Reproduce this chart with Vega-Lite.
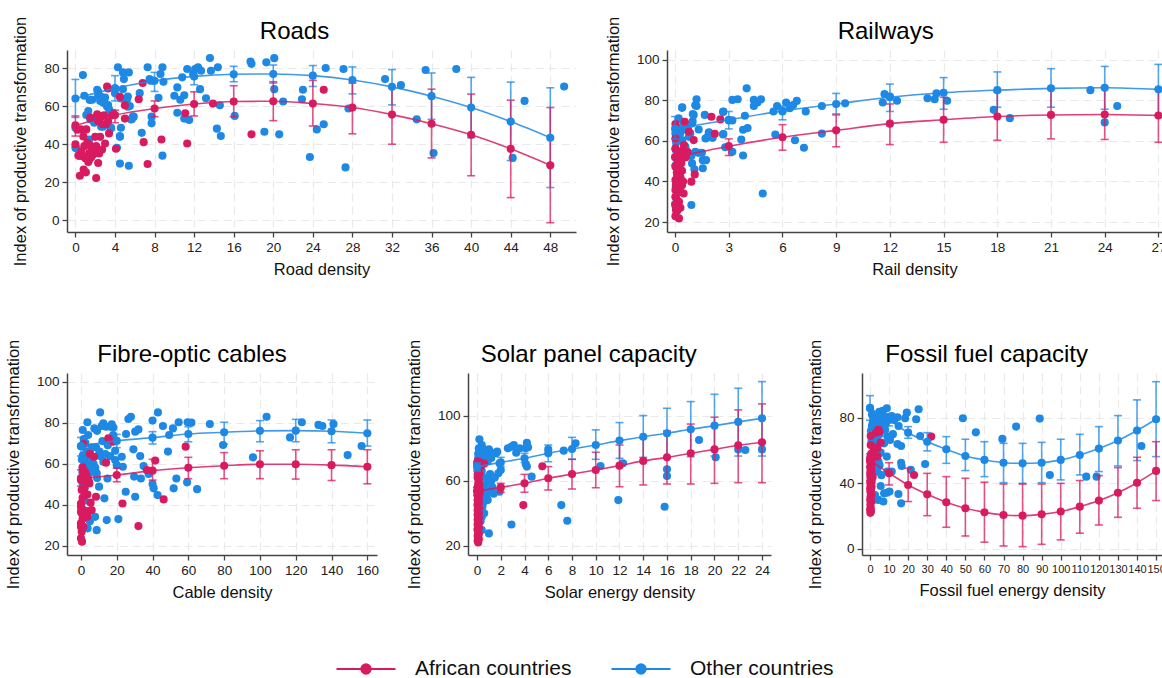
{
"$schema": "https://vega.github.io/schema/vega-lite/v6.json",
"padding": {"left": 5, "top": 16, "right": 0, "bottom": 0},
"background": "white",
"config": {
  "font": "Liberation Sans, Arial, sans-serif",
  "view": {"stroke": null},
  "axis": {"domainColor": "#444", "domainWidth": 1.5, "tickColor": "#444", "tickWidth": 1.3, "tickSize": 5, "labelFontSize": 13.5, "labelColor": "#222", "titleFontSize": 16.5, "titleFontWeight": "normal", "titleColor": "#111", "gridColor": "#e9e9e9", "gridDash": [8, 5], "gridWidth": 1.2, "labelPadding": 3},
  "axisX": {"titlePadding": 8},
  "axisY": {"titlePadding": 15},
  "title": {"fontSize": 24, "fontWeight": "normal", "anchor": "middle", "frame": "bounds", "offset": 0, "dy": 32, "color": "#000"}
},
"resolve": {"scale": {"color": "shared"}, "legend": {"color": "shared"}},
"spacing": 61,
"datasets": {
"pts": [
{"p":"R","g":"O","x":0,"y":38},{"p":"R","g":"O","x":0,"y":48.6},{"p":"R","g":"O","x":0.76,"y":76.3},{"p":"R","g":"O","x":0.9,"y":65.4},{"p":"R","g":"O","x":0.4,"y":33.9},{"p":"R","g":"O","x":1.3,"y":57.4},{"p":"R","g":"O","x":1.5,"y":53},{"p":"R","g":"O","x":1.7,"y":63.3},{"p":"R","g":"O","x":1.4,"y":42.4},{"p":"R","g":"O","x":1.9,"y":51.2},{"p":"R","g":"O","x":2.2,"y":68.6},{"p":"R","g":"O","x":2.3,"y":65.4},{"p":"R","g":"O","x":2.5,"y":62.7},{"p":"R","g":"O","x":2.6,"y":49.1},{"p":"R","g":"O","x":2.8,"y":61.8},{"p":"R","g":"O","x":3,"y":64.5},{"p":"R","g":"O","x":3.2,"y":59.7},{"p":"R","g":"O","x":3.4,"y":58.3},{"p":"R","g":"O","x":3.6,"y":48.6},{"p":"R","g":"O","x":3.8,"y":56.5},{"p":"R","g":"O","x":4,"y":69.3},{"p":"R","g":"O","x":4.2,"y":38},{"p":"R","g":"O","x":4.3,"y":80.4},{"p":"R","g":"O","x":4.5,"y":44.2},{"p":"R","g":"O","x":4.6,"y":48.6},{"p":"R","g":"O","x":4.5,"y":29.7},{"p":"R","g":"O","x":4.8,"y":68.9},{"p":"R","g":"O","x":4.8,"y":77.7},{"p":"R","g":"O","x":4.9,"y":74.2},{"p":"R","g":"O","x":5.1,"y":63.6},{"p":"R","g":"O","x":5.3,"y":65},{"p":"R","g":"O","x":5.4,"y":77.7},{"p":"R","g":"O","x":5.5,"y":60},{"p":"R","g":"O","x":5.4,"y":28.6},{"p":"R","g":"O","x":5.7,"y":53},{"p":"R","g":"O","x":5.9,"y":54.4},{"p":"R","g":"O","x":6.5,"y":66.8},{"p":"R","g":"O","x":6.7,"y":45.9},{"p":"R","g":"O","x":7.3,"y":80.4},{"p":"R","g":"O","x":7.5,"y":74.2},{"p":"R","g":"O","x":7.6,"y":73.3},{"p":"R","g":"O","x":7.7,"y":50.9},{"p":"R","g":"O","x":7.7,"y":54.4},{"p":"R","g":"O","x":7.9,"y":73.3},{"p":"R","g":"O","x":8.4,"y":64.3},{"p":"R","g":"O","x":8.6,"y":76.9},{"p":"R","g":"O","x":8.8,"y":80.4},{"p":"R","g":"O","x":8.9,"y":72.8},{"p":"R","g":"O","x":8.8,"y":33.9},{"p":"R","g":"O","x":10,"y":65.4},{"p":"R","g":"O","x":10.3,"y":69.8},{"p":"R","g":"O","x":10.3,"y":56.5},{"p":"R","g":"O","x":10.6,"y":63.3},{"p":"R","g":"O","x":10.8,"y":75.1},{"p":"R","g":"O","x":11,"y":65.7},{"p":"R","g":"O","x":11,"y":53.4},{"p":"R","g":"O","x":11.3,"y":79.5},{"p":"R","g":"O","x":11.5,"y":52.7},{"p":"R","g":"O","x":11.9,"y":76.9},{"p":"R","g":"O","x":12.1,"y":79.5},{"p":"R","g":"O","x":12.4,"y":80.4},{"p":"R","g":"O","x":12.6,"y":68.9},{"p":"R","g":"O","x":12.7,"y":78.6},{"p":"R","g":"O","x":13.2,"y":64.1},{"p":"R","g":"O","x":13.6,"y":85.3},{"p":"R","g":"O","x":13.7,"y":78.6},{"p":"R","g":"O","x":14.3,"y":48.1},{"p":"R","g":"O","x":14.4,"y":80.4},{"p":"R","g":"O","x":14.7,"y":44.2},{"p":"R","g":"O","x":14.6,"y":60.4},{"p":"R","g":"O","x":16.1,"y":54.8},{"p":"R","g":"O","x":17.7,"y":83.4},{"p":"R","g":"O","x":17.8,"y":82.2},{"p":"R","g":"O","x":19.1,"y":46.5},{"p":"R","g":"O","x":19.3,"y":83},{"p":"R","g":"O","x":20.1,"y":85.2},{"p":"R","g":"O","x":20.1,"y":68.9},{"p":"R","g":"O","x":20.6,"y":45.1},{"p":"R","g":"O","x":21,"y":62.4},{"p":"R","g":"O","x":22.9,"y":63.6},{"p":"R","g":"O","x":23,"y":68.6},{"p":"R","g":"O","x":23.7,"y":33.2},{"p":"R","g":"O","x":24.4,"y":47.7},{"p":"R","g":"O","x":25.1,"y":50.4},{"p":"R","g":"O","x":25.3,"y":80},{"p":"R","g":"O","x":27.1,"y":79.5},{"p":"R","g":"O","x":27.3,"y":27.7},{"p":"R","g":"O","x":27.6,"y":58.7},{"p":"R","g":"O","x":31.3,"y":74.2},{"p":"R","g":"O","x":32.9,"y":71},{"p":"R","g":"O","x":34.5,"y":53},{"p":"R","g":"O","x":35.4,"y":79},{"p":"R","g":"O","x":36.2,"y":35.3},{"p":"R","g":"O","x":38.5,"y":79.5},{"p":"R","g":"O","x":44.2,"y":32.7},{"p":"R","g":"O","x":45.4,"y":62.7},{"p":"R","g":"O","x":49.4,"y":70.3},{"p":"R","g":"O","x":1.1,"y":55.3},{"p":"R","g":"O","x":1.45,"y":63.2},{"p":"R","g":"O","x":2.3,"y":67.5},{"p":"R","g":"O","x":2.6,"y":64.9},{"p":"R","g":"O","x":3,"y":61.4},{"p":"R","g":"O","x":3.3,"y":60.5},{"p":"R","g":"O","x":1.8,"y":52.6},{"p":"R","g":"O","x":2.1,"y":53.5},{"p":"R","g":"O","x":2.8,"y":49.1},{"p":"R","g":"O","x":3.6,"y":48.3},{"p":"R","g":"O","x":4.5,"y":43.8},{"p":"R","g":"O","x":0.1,"y":37.7},{"p":"R","g":"O","x":0.43,"y":33.7},{"p":"R","g":"O","x":4,"y":66.7},{"p":"R","g":"O","x":4.6,"y":64},{"p":"R","g":"O","x":5.2,"y":63.2},{"p":"R","g":"O","x":5.3,"y":59.6},{"p":"R","g":"O","x":5.8,"y":54.4},{"p":"R","g":"O","x":5.6,"y":53},
{"p":"R","g":"A","x":0,"y":39.8},{"p":"R","g":"A","x":0.45,"y":23.3},{"p":"R","g":"A","x":0.57,"y":47.7},{"p":"R","g":"A","x":0.76,"y":33.6},{"p":"R","g":"A","x":0.83,"y":26.5},{"p":"R","g":"A","x":0.9,"y":38.9},{"p":"R","g":"A","x":1.06,"y":25.1},{"p":"R","g":"A","x":1.1,"y":47.7},{"p":"R","g":"A","x":1.2,"y":40.6},{"p":"R","g":"A","x":1.4,"y":35.3},{"p":"R","g":"A","x":1.4,"y":31.8},{"p":"R","g":"A","x":1.5,"y":39.2},{"p":"R","g":"A","x":1.7,"y":37.1},{"p":"R","g":"A","x":1.8,"y":34.5},{"p":"R","g":"A","x":2,"y":43.8},{"p":"R","g":"A","x":2.1,"y":22.1},{"p":"R","g":"A","x":2.2,"y":55.7},{"p":"R","g":"A","x":2.3,"y":52.1},{"p":"R","g":"A","x":2.3,"y":30},{"p":"R","g":"A","x":2.5,"y":43.8},{"p":"R","g":"A","x":2.6,"y":54.4},{"p":"R","g":"A","x":2.7,"y":37.1},{"p":"R","g":"A","x":2.9,"y":55.1},{"p":"R","g":"A","x":3,"y":40.3},{"p":"R","g":"A","x":3.1,"y":50.4},{"p":"R","g":"A","x":3.2,"y":70.3},{"p":"R","g":"A","x":3.3,"y":69.3},{"p":"R","g":"A","x":3.4,"y":45.6},{"p":"R","g":"A","x":3.7,"y":55.1},{"p":"R","g":"A","x":4.1,"y":37.5},{"p":"R","g":"A","x":4.5,"y":64.8},{"p":"R","g":"A","x":5,"y":60.4},{"p":"R","g":"A","x":5,"y":53.4},{"p":"R","g":"A","x":6.4,"y":63.6},{"p":"R","g":"A","x":6.8,"y":72.1},{"p":"R","g":"A","x":6.9,"y":41},{"p":"R","g":"A","x":7.3,"y":29.5},{"p":"R","g":"A","x":8.7,"y":42.4},{"p":"R","g":"A","x":11.1,"y":56.2},{"p":"R","g":"A","x":11.3,"y":40.3},{"p":"R","g":"A","x":13.9,"y":61.3},{"p":"R","g":"A","x":17.8,"y":45.1},{"p":"R","g":"A","x":25.1,"y":68.6},{"p":"R","g":"A","x":0.6,"y":36},{"p":"R","g":"A","x":1,"y":32.5},{"p":"R","g":"A","x":1.6,"y":33},{"p":"R","g":"A","x":1.9,"y":37.5},{"p":"R","g":"A","x":2.4,"y":35},{"p":"R","g":"A","x":0.3,"y":34},{"p":"R","g":"A","x":1.3,"y":30.6},{"p":"R","g":"A","x":2.1,"y":39},{"p":"R","g":"A","x":0.8,"y":44},{"p":"R","g":"A","x":0.2,"y":47.5},{"p":"R","g":"A","x":1.5,"y":54},{"p":"R","g":"A","x":2.7,"y":50.5},{"p":"R","g":"A","x":3.3,"y":52},
{"p":"W","g":"O","x":0.4,"y":76.6},{"p":"W","g":"O","x":1.2,"y":80.5},{"p":"W","g":"O","x":1.2,"y":77.2},{"p":"W","g":"O","x":1.04,"y":72.8},{"p":"W","g":"O","x":0.98,"y":69.6},{"p":"W","g":"O","x":1.66,"y":72.8},{"p":"W","g":"O","x":1.9,"y":64.2},{"p":"W","g":"O","x":1.77,"y":61.5},{"p":"W","g":"O","x":2.1,"y":61.5},{"p":"W","g":"O","x":2.7,"y":74.5},{"p":"W","g":"O","x":2.7,"y":63.4},{"p":"W","g":"O","x":2.8,"y":56.9},{"p":"W","g":"O","x":3,"y":70.1},{"p":"W","g":"O","x":3.2,"y":70.1},{"p":"W","g":"O","x":3.2,"y":80.2},{"p":"W","g":"O","x":3.5,"y":80.5},{"p":"W","g":"O","x":3.2,"y":54.6},{"p":"W","g":"O","x":3.7,"y":60.7},{"p":"W","g":"O","x":3.8,"y":65.5},{"p":"W","g":"O","x":3.9,"y":72.4},{"p":"W","g":"O","x":4,"y":85.9},{"p":"W","g":"O","x":4.05,"y":66.3},{"p":"W","g":"O","x":3.8,"y":52.8},{"p":"W","g":"O","x":4.4,"y":80.2},{"p":"W","g":"O","x":4.4,"y":77.2},{"p":"W","g":"O","x":4.6,"y":78.9},{"p":"W","g":"O","x":4.8,"y":80.5},{"p":"W","g":"O","x":4.9,"y":34.1},{"p":"W","g":"O","x":5.5,"y":74.5},{"p":"W","g":"O","x":5.7,"y":77.2},{"p":"W","g":"O","x":5.6,"y":63.1},{"p":"W","g":"O","x":6,"y":74.5},{"p":"W","g":"O","x":6.2,"y":78.9},{"p":"W","g":"O","x":6.4,"y":76.1},{"p":"W","g":"O","x":6.6,"y":77.7},{"p":"W","g":"O","x":6.8,"y":79.7},{"p":"W","g":"O","x":6.7,"y":60.3},{"p":"W","g":"O","x":7.2,"y":56.6},{"p":"W","g":"O","x":7.3,"y":74.5},{"p":"W","g":"O","x":8.2,"y":63.6},{"p":"W","g":"O","x":8.2,"y":77.2},{"p":"W","g":"O","x":9.5,"y":78.5},{"p":"W","g":"O","x":11.6,"y":78.9},{"p":"W","g":"O","x":11.7,"y":83.1},{"p":"W","g":"O","x":12,"y":81.8},{"p":"W","g":"O","x":12.4,"y":79.8},{"p":"W","g":"O","x":14.1,"y":81},{"p":"W","g":"O","x":14.5,"y":80.5},{"p":"W","g":"O","x":14.6,"y":83.4},{"p":"W","g":"O","x":15.2,"y":79.8},{"p":"W","g":"O","x":17.8,"y":75.3},{"p":"W","g":"O","x":18.7,"y":71.2},{"p":"W","g":"O","x":23.2,"y":85},{"p":"W","g":"O","x":24,"y":69.1},{"p":"W","g":"O","x":24.7,"y":77.2},{"p":"W","g":"O","x":0.39,"y":76.3},{"p":"W","g":"O","x":1.13,"y":77.6},{"p":"W","g":"O","x":0.99,"y":73.2},{"p":"W","g":"O","x":2.68,"y":74.3},{"p":"W","g":"O","x":1.32,"y":65.6},{"p":"W","g":"O","x":1.88,"y":64},{"p":"W","g":"O","x":1.7,"y":61.2},{"p":"W","g":"O","x":2.68,"y":63.2},{"p":"W","g":"O","x":0.91,"y":28.4},{"p":"W","g":"O","x":1.55,"y":46.5},{"p":"W","g":"O","x":1.08,"y":46},{"p":"W","g":"O","x":1.55,"y":50.5},{"p":"W","g":"O","x":1.73,"y":50.5},{"p":"W","g":"O","x":0.95,"y":48.9},{"p":"W","g":"O","x":1.13,"y":54.6},{"p":"W","g":"O","x":1.3,"y":54.1},{"p":"W","g":"O","x":1.5,"y":54.1},{"p":"W","g":"O","x":0.8,"y":53.5},{"p":"W","g":"O","x":0.58,"y":57.1},{"p":"W","g":"O","x":0.6,"y":55.5},{"p":"W","g":"O","x":0.91,"y":52.5},{"p":"W","g":"O","x":0.77,"y":62},{"p":"W","g":"O","x":0.95,"y":68.6},{"p":"W","g":"O","x":0.6,"y":66.6},{"p":"W","g":"O","x":0.39,"y":65.3},{"p":"W","g":"O","x":0.2,"y":66.2},{"p":"W","g":"O","x":0.12,"y":62.9},{"p":"W","g":"O","x":0.06,"y":59.1},{"p":"W","g":"O","x":0.04,"y":55.5},{"p":"W","g":"O","x":0.12,"y":52.2},{"p":"W","g":"O","x":0.04,"y":48.1},{"p":"W","g":"O","x":0.12,"y":42.3},{"p":"W","g":"O","x":0.04,"y":37.4},{"p":"W","g":"O","x":0.04,"y":32.5},{"p":"W","g":"O","x":0.04,"y":27.5},{"p":"W","g":"O","x":0.2,"y":71.1},{"p":"W","g":"O","x":0.46,"y":69.4},{"p":"W","g":"O","x":0.28,"y":63.7},{"p":"W","g":"O","x":0.85,"y":63.7},{"p":"W","g":"O","x":0.71,"y":66.2},{"p":"W","g":"O","x":0.39,"y":60.4},{"p":"W","g":"O","x":0.06,"y":66.9},{"p":"W","g":"O","x":0.02,"y":63.7},{"p":"W","g":"O","x":0,"y":28.9},
{"p":"W","g":"A","x":0.02,"y":68.3},{"p":"W","g":"A","x":0.54,"y":69.4},{"p":"W","g":"A","x":0.02,"y":61.2},{"p":"W","g":"A","x":0.77,"y":64.5},{"p":"W","g":"A","x":1.04,"y":60.4},{"p":"W","g":"A","x":2.03,"y":71.9},{"p":"W","g":"A","x":2.53,"y":70.6},{"p":"W","g":"A","x":2.22,"y":63.5},{"p":"W","g":"A","x":0.02,"y":56.3},{"p":"W","g":"A","x":0.2,"y":53.8},{"p":"W","g":"A","x":0.43,"y":55.5},{"p":"W","g":"A","x":0.54,"y":51.9},{"p":"W","g":"A","x":0.17,"y":52.2},{"p":"W","g":"A","x":0.02,"y":47.2},{"p":"W","g":"A","x":0.2,"y":46.4},{"p":"W","g":"A","x":0.39,"y":45.3},{"p":"W","g":"A","x":0.12,"y":43.2},{"p":"W","g":"A","x":1.1,"y":43.5},{"p":"W","g":"A","x":0.91,"y":39.9},{"p":"W","g":"A","x":0.02,"y":40.7},{"p":"W","g":"A","x":0.2,"y":37.4},{"p":"W","g":"A","x":0.39,"y":38.2},{"p":"W","g":"A","x":0.02,"y":35.8},{"p":"W","g":"A","x":0.3,"y":34.9},{"p":"W","g":"A","x":0.48,"y":34.1},{"p":"W","g":"A","x":0.02,"y":32.5},{"p":"W","g":"A","x":0.22,"y":30},{"p":"W","g":"A","x":0.02,"y":28.4},{"p":"W","g":"A","x":0.12,"y":25.6},{"p":"W","g":"A","x":0.02,"y":22.9},{"p":"W","g":"A","x":0.22,"y":21.8},{"p":"W","g":"A","x":0.1,"y":44.5},{"p":"W","g":"A","x":0.3,"y":42},{"p":"W","g":"A","x":0.15,"y":50},{"p":"W","g":"A","x":0.35,"y":49},{"p":"W","g":"A","x":0.05,"y":38.5},{"p":"W","g":"A","x":0.25,"y":36.5},{"p":"W","g":"A","x":0.45,"y":40},{"p":"W","g":"A","x":0.1,"y":31},{"p":"W","g":"A","x":0.3,"y":27},{"p":"W","g":"A","x":0.05,"y":26},{"p":"W","g":"A","x":0.6,"y":52},{"p":"W","g":"A","x":0.7,"y":54.5},{"p":"W","g":"A","x":0.5,"y":58},
{"p":"F","g":"O","x":1,"y":76.4},{"p":"F","g":"O","x":3.6,"y":80.2},{"p":"F","g":"O","x":7.5,"y":77.2},{"p":"F","g":"O","x":10.7,"y":85},{"p":"F","g":"O","x":11.6,"y":78.4},{"p":"F","g":"O","x":12.5,"y":79.7},{"p":"F","g":"O","x":14,"y":78},{"p":"F","g":"O","x":16.6,"y":78},{"p":"F","g":"O","x":17.2,"y":79.2},{"p":"F","g":"O","x":18.1,"y":77.6},{"p":"F","g":"O","x":8.4,"y":68},{"p":"F","g":"O","x":10.3,"y":65.9},{"p":"F","g":"O","x":13.6,"y":64.7},{"p":"F","g":"O","x":10.7,"y":63.7},{"p":"F","g":"O","x":16.3,"y":63.7},{"p":"F","g":"O","x":19.1,"y":66.3},{"p":"F","g":"O","x":19.1,"y":61.8},{"p":"F","g":"O","x":20,"y":59.3},{"p":"F","g":"O","x":22.8,"y":63.4},{"p":"F","g":"O","x":23.4,"y":58.5},{"p":"F","g":"O","x":25,"y":46.3},{"p":"F","g":"O","x":25.2,"y":74.5},{"p":"F","g":"O","x":26.5,"y":81.8},{"p":"F","g":"O","x":27.9,"y":82.9},{"p":"F","g":"O","x":29.3,"y":67},{"p":"F","g":"O","x":29.7,"y":53.7},{"p":"F","g":"O","x":30.3,"y":75.6},{"p":"F","g":"O","x":30.3,"y":43.9},{"p":"F","g":"O","x":32.1,"y":76.7},{"p":"F","g":"O","x":33.1,"y":63.7},{"p":"F","g":"O","x":33.5,"y":52.8},{"p":"F","g":"O","x":35,"y":58.9},{"p":"F","g":"O","x":37.8,"y":55},{"p":"F","g":"O","x":40,"y":81},{"p":"F","g":"O","x":40,"y":50.1},{"p":"F","g":"O","x":40.6,"y":48},{"p":"F","g":"O","x":42.8,"y":44.7},{"p":"F","g":"O","x":43,"y":85},{"p":"F","g":"O","x":45.8,"y":78.4},{"p":"F","g":"O","x":48.6,"y":65.9},{"p":"F","g":"O","x":49.3,"y":74},{"p":"F","g":"O","x":51.4,"y":77.2},{"p":"F","g":"O","x":51.8,"y":48},{"p":"F","g":"O","x":53.3,"y":52.8},{"p":"F","g":"O","x":54.6,"y":80.2},{"p":"F","g":"O","x":59.3,"y":50.9},{"p":"F","g":"O","x":59.6,"y":80.2},{"p":"F","g":"O","x":61.7,"y":80},{"p":"F","g":"O","x":64.9,"y":47.6},{"p":"F","g":"O","x":72,"y":79.3},{"p":"F","g":"O","x":79.4,"y":69.1},{"p":"F","g":"O","x":96.1,"y":63.1},{"p":"F","g":"O","x":103.7,"y":82.9},{"p":"F","g":"O","x":116.8,"y":72.8},{"p":"F","g":"O","x":123.4,"y":80.2},{"p":"F","g":"O","x":132.7,"y":78.9},{"p":"F","g":"O","x":134.9,"y":78.4},{"p":"F","g":"O","x":141.1,"y":79.3},{"p":"F","g":"O","x":149,"y":64.2},{"p":"F","g":"O","x":156.8,"y":68.6},{"p":"F","g":"O","x":14.4,"y":32.5},{"p":"F","g":"O","x":20.9,"y":33},{"p":"F","g":"O","x":3.7,"y":28.5},{"p":"F","g":"O","x":8.8,"y":27.6},{"p":"F","g":"O","x":7.9,"y":34.1},{"p":"F","g":"O","x":13.1,"y":43.1},{"p":"F","g":"O","x":10.1,"y":48.8},{"p":"F","g":"O","x":14.8,"y":52.8},{"p":"F","g":"O","x":8.8,"y":55.3},{"p":"F","g":"O","x":12.5,"y":61},{"p":"F","g":"O","x":1,"y":58},{"p":"F","g":"O","x":2,"y":60},{"p":"F","g":"O","x":2.5,"y":62},{"p":"F","g":"O","x":3,"y":57},{"p":"F","g":"O","x":3.5,"y":64},{"p":"F","g":"O","x":4,"y":59},{"p":"F","g":"O","x":5,"y":61},{"p":"F","g":"O","x":1.5,"y":55},{"p":"F","g":"O","x":2,"y":53},{"p":"F","g":"O","x":4,"y":55},{"p":"F","g":"O","x":5,"y":66},{"p":"F","g":"O","x":6,"y":63},{"p":"F","g":"O","x":3,"y":66},{"p":"F","g":"O","x":1,"y":50},{"p":"F","g":"O","x":2,"y":48},{"p":"F","g":"O","x":3,"y":45},{"p":"F","g":"O","x":4.5,"y":51},{"p":"F","g":"O","x":6,"y":56},{"p":"F","g":"O","x":7,"y":60},{"p":"F","g":"O","x":8,"y":58},{"p":"F","g":"O","x":9,"y":53},{"p":"F","g":"O","x":2,"y":42},{"p":"F","g":"O","x":3,"y":37},{"p":"F","g":"O","x":5,"y":32},{"p":"F","g":"O","x":1,"y":64},{"p":"F","g":"O","x":2.5,"y":70},{"p":"F","g":"O","x":0.5,"y":62},{"p":"F","g":"O","x":0.8,"y":56},{"p":"F","g":"O","x":0,"y":68.5},{"p":"F","g":"O","x":1.5,"y":72},{"p":"F","g":"O","x":4,"y":74},{"p":"F","g":"O","x":6,"y":68},{"p":"F","g":"O","x":9,"y":76},{"p":"F","g":"O","x":12,"y":71},{"p":"F","g":"O","x":15,"y":69},{"p":"F","g":"O","x":18,"y":74},
{"p":"F","g":"A","x":1.3,"y":69.6},{"p":"F","g":"A","x":5,"y":64.7},{"p":"F","g":"A","x":7.3,"y":63.4},{"p":"F","g":"A","x":15.3,"y":72.4},{"p":"F","g":"A","x":18.1,"y":70.7},{"p":"F","g":"A","x":14,"y":60.5},{"p":"F","g":"A","x":4.1,"y":52.4},{"p":"F","g":"A","x":4.7,"y":50.4},{"p":"F","g":"A","x":2.8,"y":55},{"p":"F","g":"A","x":1.3,"y":56.1},{"p":"F","g":"A","x":5.4,"y":41},{"p":"F","g":"A","x":6,"y":37.4},{"p":"F","g":"A","x":8.4,"y":43.9},{"p":"F","g":"A","x":23.2,"y":40.6},{"p":"F","g":"A","x":32.1,"y":29.6},{"p":"F","g":"A","x":36.8,"y":56.9},{"p":"F","g":"A","x":41.5,"y":61.5},{"p":"F","g":"A","x":46.2,"y":42.6},{"p":"F","g":"A","x":58.5,"y":68.3},{"p":"F","g":"A","x":0,"y":52},{"p":"F","g":"A","x":0.4,"y":47.2},{"p":"F","g":"A","x":0.9,"y":43.4},{"p":"F","g":"A","x":1.9,"y":48},{"p":"F","g":"A","x":2.2,"y":44.7},{"p":"F","g":"A","x":3.6,"y":45},{"p":"F","g":"A","x":0,"y":40.6},{"p":"F","g":"A","x":0,"y":39},{"p":"F","g":"A","x":0,"y":36.6},{"p":"F","g":"A","x":1.3,"y":37.4},{"p":"F","g":"A","x":2.2,"y":34.1},{"p":"F","g":"A","x":3.6,"y":34.1},{"p":"F","g":"A","x":0,"y":30.9},{"p":"F","g":"A","x":0.9,"y":33},{"p":"F","g":"A","x":0.4,"y":26.8},{"p":"F","g":"A","x":0,"y":23.6},{"p":"F","g":"A","x":0.6,"y":22},{"p":"F","g":"A","x":0,"y":29.3},{"p":"F","g":"A","x":1.3,"y":29.3},{"p":"F","g":"A","x":0.4,"y":35.8},{"p":"F","g":"A","x":2.2,"y":56.1},{"p":"F","g":"A","x":0.9,"y":58.2},{"p":"F","g":"A","x":2.8,"y":51.2},{"p":"F","g":"A","x":4.1,"y":36.6},
{"p":"S","g":"O","x":0.2,"y":85.5},{"p":"S","g":"O","x":0.1,"y":76.5},{"p":"S","g":"O","x":0.3,"y":78.5},{"p":"S","g":"O","x":0.6,"y":79.3},{"p":"S","g":"O","x":0.5,"y":75.9},{"p":"S","g":"O","x":1,"y":79.3},{"p":"S","g":"O","x":1.1,"y":77.9},{"p":"S","g":"O","x":1.6,"y":76.9},{"p":"S","g":"O","x":1.7,"y":77.9},{"p":"S","g":"O","x":1.9,"y":70.7},{"p":"S","g":"O","x":2.6,"y":80},{"p":"S","g":"O","x":2.9,"y":81},{"p":"S","g":"O","x":3.1,"y":82},{"p":"S","g":"O","x":3.3,"y":77.3},{"p":"S","g":"O","x":3.6,"y":80},{"p":"S","g":"O","x":4.1,"y":80},{"p":"S","g":"O","x":4.2,"y":83.4},{"p":"S","g":"O","x":4.3,"y":80.6},{"p":"S","g":"O","x":4.2,"y":68.7},{"p":"S","g":"O","x":4.1,"y":70.3},{"p":"S","g":"O","x":4.6,"y":62.5},{"p":"S","g":"O","x":6,"y":79.3},{"p":"S","g":"O","x":7.3,"y":78.5},{"p":"S","g":"O","x":7.1,"y":45},{"p":"S","g":"O","x":7.6,"y":35.4},{"p":"S","g":"O","x":8.3,"y":83},{"p":"S","g":"O","x":10.4,"y":69.1},{"p":"S","g":"O","x":12.3,"y":70.7},{"p":"S","g":"O","x":11.9,"y":48.1},{"p":"S","g":"O","x":16,"y":67},{"p":"S","g":"O","x":16,"y":62.9},{"p":"S","g":"O","x":15.8,"y":44},{"p":"S","g":"O","x":18.7,"y":85.1},{"p":"S","g":"O","x":20.1,"y":74.4},{"p":"S","g":"O","x":22,"y":79.3},{"p":"S","g":"O","x":22.6,"y":78.9},{"p":"S","g":"O","x":24,"y":79.3},{"p":"S","g":"O","x":1,"y":27.6},{"p":"S","g":"O","x":2.9,"y":33.1},{"p":"S","g":"O","x":2,"y":66.6},{"p":"S","g":"O","x":1.9,"y":53.3},{"p":"S","g":"O","x":1.8,"y":64.6},{"p":"S","g":"O","x":1.1,"y":64.1},{"p":"S","g":"O","x":0.9,"y":48.1},{"p":"S","g":"O","x":0.5,"y":46.1},{"p":"S","g":"O","x":0.4,"y":37.9},{"p":"S","g":"O","x":0.4,"y":29.7},{"p":"S","g":"O","x":0.3,"y":56.3},{"p":"S","g":"O","x":0.1,"y":61.5},{"p":"S","g":"O","x":0.06,"y":67.6},{"p":"S","g":"O","x":0,"y":70.7},{"p":"S","g":"O","x":0.1,"y":73.8},{"p":"S","g":"O","x":0.05,"y":30},{"p":"S","g":"O","x":0.15,"y":34},{"p":"S","g":"O","x":0.1,"y":38},{"p":"S","g":"O","x":0.2,"y":42},{"p":"S","g":"O","x":0.05,"y":45},{"p":"S","g":"O","x":0.3,"y":48},{"p":"S","g":"O","x":0.1,"y":50},{"p":"S","g":"O","x":0.2,"y":52},{"p":"S","g":"O","x":0.05,"y":55},{"p":"S","g":"O","x":0.35,"y":57},{"p":"S","g":"O","x":0.15,"y":59},{"p":"S","g":"O","x":0.25,"y":62},{"p":"S","g":"O","x":0.05,"y":64},{"p":"S","g":"O","x":0.4,"y":66},{"p":"S","g":"O","x":0.2,"y":68},{"p":"S","g":"O","x":0.5,"y":72},{"p":"S","g":"O","x":0.3,"y":74},{"p":"S","g":"O","x":0.7,"y":76},{"p":"S","g":"O","x":0.15,"y":80},{"p":"S","g":"O","x":0.8,"y":62},{"p":"S","g":"O","x":0.7,"y":58},{"p":"S","g":"O","x":1.2,"y":60},{"p":"S","g":"O","x":1.5,"y":62},{"p":"S","g":"O","x":0.9,"y":54},{"p":"S","g":"O","x":1.3,"y":56},{"p":"S","g":"O","x":0.6,"y":52},{"p":"S","g":"O","x":0.8,"y":50},{"p":"S","g":"O","x":1.4,"y":52},{"p":"S","g":"O","x":0.45,"y":44},{"p":"S","g":"O","x":0.6,"y":40},{"p":"S","g":"O","x":0.3,"y":35},{"p":"S","g":"O","x":1.2,"y":74},{"p":"S","g":"O","x":0.9,"y":72},{"p":"S","g":"O","x":0.4,"y":82},{"p":"S","g":"O","x":0.6,"y":78},
{"p":"S","g":"A","x":0.1,"y":22},{"p":"S","g":"A","x":0.05,"y":23},{"p":"S","g":"A","x":0.15,"y":24},{"p":"S","g":"A","x":0.1,"y":25},{"p":"S","g":"A","x":0.05,"y":26},{"p":"S","g":"A","x":0.15,"y":27},{"p":"S","g":"A","x":0.1,"y":28},{"p":"S","g":"A","x":0.05,"y":30},{"p":"S","g":"A","x":0.15,"y":31},{"p":"S","g":"A","x":0.1,"y":32},{"p":"S","g":"A","x":0.05,"y":33},{"p":"S","g":"A","x":0.15,"y":34},{"p":"S","g":"A","x":0.1,"y":35},{"p":"S","g":"A","x":0.05,"y":36},{"p":"S","g":"A","x":0.15,"y":37},{"p":"S","g":"A","x":0.1,"y":38},{"p":"S","g":"A","x":0.05,"y":39},{"p":"S","g":"A","x":0.15,"y":40},{"p":"S","g":"A","x":0.1,"y":41},{"p":"S","g":"A","x":0.05,"y":42},{"p":"S","g":"A","x":0.15,"y":43},{"p":"S","g":"A","x":0.1,"y":44},{"p":"S","g":"A","x":0.05,"y":45},{"p":"S","g":"A","x":0.15,"y":46},{"p":"S","g":"A","x":0.1,"y":47},{"p":"S","g":"A","x":0.05,"y":48},{"p":"S","g":"A","x":0.15,"y":49},{"p":"S","g":"A","x":0.1,"y":50},{"p":"S","g":"A","x":0.05,"y":51},{"p":"S","g":"A","x":0.2,"y":52},{"p":"S","g":"A","x":0.1,"y":53},{"p":"S","g":"A","x":0.25,"y":54},{"p":"S","g":"A","x":0.15,"y":55},{"p":"S","g":"A","x":0.05,"y":56},{"p":"S","g":"A","x":0.2,"y":57.2},{"p":"S","g":"A","x":0.1,"y":58},{"p":"S","g":"A","x":0.15,"y":60.3},{"p":"S","g":"A","x":0.05,"y":62},{"p":"S","g":"A","x":0.2,"y":64},{"p":"S","g":"A","x":0.1,"y":65},{"p":"S","g":"A","x":0.3,"y":68.5},{"p":"S","g":"A","x":0.05,"y":69},{"p":"S","g":"A","x":0.2,"y":71.5},{"p":"S","g":"A","x":0.05,"y":72},{"p":"S","g":"A","x":3.9,"y":45},{"p":"S","g":"A","x":5.5,"y":68.9},{"p":"S","g":"A","x":0.6,"y":70.5},
{"p":"X","g":"O","x":0,"y":86},{"p":"X","g":"O","x":1.4,"y":77},{"p":"X","g":"O","x":3.2,"y":80.3},{"p":"X","g":"O","x":4.9,"y":83.7},{"p":"X","g":"O","x":6.7,"y":84.3},{"p":"X","g":"O","x":8.8,"y":85.8},{"p":"X","g":"O","x":9.6,"y":80.3},{"p":"X","g":"O","x":11.4,"y":81.1},{"p":"X","g":"O","x":12.6,"y":78.7},{"p":"X","g":"O","x":14.4,"y":80.3},{"p":"X","g":"O","x":18.4,"y":79.7},{"p":"X","g":"O","x":19.3,"y":83.1},{"p":"X","g":"O","x":24.2,"y":79.1},{"p":"X","g":"O","x":25.5,"y":85.2},{"p":"X","g":"O","x":3.2,"y":71.5},{"p":"X","g":"O","x":5.3,"y":73.6},{"p":"X","g":"O","x":7.9,"y":72.6},{"p":"X","g":"O","x":9.1,"y":68.5},{"p":"X","g":"O","x":10.5,"y":66.5},{"p":"X","g":"O","x":4.4,"y":65.4},{"p":"X","g":"O","x":7.4,"y":64.4},{"p":"X","g":"O","x":8.8,"y":56.3},{"p":"X","g":"O","x":5.6,"y":58.7},{"p":"X","g":"O","x":1.4,"y":64.4},{"p":"X","g":"O","x":2.6,"y":59.3},{"p":"X","g":"O","x":11.4,"y":47.2},{"p":"X","g":"O","x":9.1,"y":47.2},{"p":"X","g":"O","x":3.9,"y":47.2},{"p":"X","g":"O","x":5.6,"y":38.4},{"p":"X","g":"O","x":7.4,"y":33.9},{"p":"X","g":"O","x":8.8,"y":34.3},{"p":"X","g":"O","x":10.2,"y":35},{"p":"X","g":"O","x":7,"y":28.9},{"p":"X","g":"O","x":14.4,"y":64},{"p":"X","g":"O","x":16.3,"y":62.8},{"p":"X","g":"O","x":16.3,"y":52.6},{"p":"X","g":"O","x":16.6,"y":50.6},{"p":"X","g":"O","x":14.9,"y":33.5},{"p":"X","g":"O","x":16.3,"y":27.8},{"p":"X","g":"O","x":21.4,"y":48.2},{"p":"X","g":"O","x":28.9,"y":51.8},{"p":"X","g":"O","x":26.3,"y":68.9},{"p":"X","g":"O","x":48.7,"y":79.7},{"p":"X","g":"O","x":55.5,"y":71.1},{"p":"X","g":"O","x":69.4,"y":67.1},{"p":"X","g":"O","x":76.6,"y":74.6},{"p":"X","g":"O","x":89,"y":79.5},{"p":"X","g":"O","x":94.3,"y":45.1},{"p":"X","g":"O","x":113.4,"y":44.1},{"p":"X","g":"O","x":118.8,"y":44.1},{"p":"X","g":"O","x":142.3,"y":62.8},{"p":"X","g":"O","x":2.6,"y":32.9},{"p":"X","g":"O","x":1.75,"y":49.2},{"p":"X","g":"O","x":0.9,"y":41.1},{"p":"X","g":"O","x":4.4,"y":29.9},{"p":"X","g":"O","x":1.4,"y":29.5},{"p":"X","g":"O","x":1,"y":75},{"p":"X","g":"O","x":2,"y":78},{"p":"X","g":"O","x":0.5,"y":72},{"p":"X","g":"O","x":1.5,"y":70},{"p":"X","g":"O","x":3,"y":68},{"p":"X","g":"O","x":4,"y":75},{"p":"X","g":"O","x":2.5,"y":62},{"p":"X","g":"O","x":0.8,"y":66},{"p":"X","g":"O","x":1,"y":82},{"p":"X","g":"O","x":2,"y":80},{"p":"X","g":"O","x":3.5,"y":76},{"p":"X","g":"O","x":5,"y":70},{"p":"X","g":"O","x":6,"y":78},{"p":"X","g":"O","x":7,"y":80},{"p":"X","g":"O","x":8,"y":76},{"p":"X","g":"O","x":0.3,"y":56},{"p":"X","g":"O","x":1,"y":52},{"p":"X","g":"O","x":2,"y":55},{"p":"X","g":"O","x":3,"y":50},{"p":"X","g":"O","x":4.5,"y":53},{"p":"X","g":"O","x":6,"y":45},{"p":"X","g":"O","x":5,"y":51},{"p":"X","g":"O","x":1,"y":44},{"p":"X","g":"O","x":10,"y":80},{"p":"X","g":"O","x":12,"y":70},{"p":"X","g":"O","x":15,"y":75},
{"p":"X","g":"A","x":0.2,"y":22},{"p":"X","g":"A","x":0.5,"y":23},{"p":"X","g":"A","x":0.1,"y":24},{"p":"X","g":"A","x":0.4,"y":25},{"p":"X","g":"A","x":0.2,"y":27},{"p":"X","g":"A","x":0.6,"y":29},{"p":"X","g":"A","x":0.1,"y":30},{"p":"X","g":"A","x":0.3,"y":32},{"p":"X","g":"A","x":0.7,"y":33},{"p":"X","g":"A","x":0.2,"y":35},{"p":"X","g":"A","x":0.5,"y":36},{"p":"X","g":"A","x":0.1,"y":37},{"p":"X","g":"A","x":0.8,"y":38},{"p":"X","g":"A","x":0.3,"y":39},{"p":"X","g":"A","x":0.6,"y":40},{"p":"X","g":"A","x":0.1,"y":41},{"p":"X","g":"A","x":0.4,"y":42},{"p":"X","g":"A","x":0.9,"y":43},{"p":"X","g":"A","x":0.2,"y":44},{"p":"X","g":"A","x":0.5,"y":45},{"p":"X","g":"A","x":0.1,"y":46},{"p":"X","g":"A","x":0.7,"y":47},{"p":"X","g":"A","x":0.3,"y":48},{"p":"X","g":"A","x":0.6,"y":49},{"p":"X","g":"A","x":0.1,"y":50},{"p":"X","g":"A","x":0.4,"y":51},{"p":"X","g":"A","x":0.8,"y":52},{"p":"X","g":"A","x":0.2,"y":53},{"p":"X","g":"A","x":0.5,"y":54},{"p":"X","g":"A","x":0.1,"y":55},{"p":"X","g":"A","x":0.3,"y":56},{"p":"X","g":"A","x":0.6,"y":58},{"p":"X","g":"A","x":0.35,"y":63.4},{"p":"X","g":"A","x":0.35,"y":68.9},{"p":"X","g":"A","x":3.2,"y":70.9},{"p":"X","g":"A","x":4.4,"y":72.6},{"p":"X","g":"A","x":4.9,"y":71.5},{"p":"X","g":"A","x":5.6,"y":64.8},{"p":"X","g":"A","x":3.9,"y":61.4},{"p":"X","g":"A","x":2.1,"y":60},{"p":"X","g":"A","x":1.75,"y":62},{"p":"X","g":"A","x":3.9,"y":56.3},{"p":"X","g":"A","x":23.1,"y":45.1},{"p":"X","g":"A","x":32.1,"y":68.5},{"p":"X","g":"A","x":1.4,"y":44.1}
],
"fit": [
{"p":"R","g":"O","x":0,"y":64,"lo":54,"hi":74},{"p":"R","g":"O","x":4,"y":69.3,"lo":62.7,"hi":76},{"p":"R","g":"O","x":8,"y":73.3,"lo":67.7,"hi":77.7},{"p":"R","g":"O","x":12,"y":75.6,"lo":71.2,"hi":78.6},{"p":"R","g":"O","x":16,"y":76.7,"lo":72.8,"hi":80.9},{"p":"R","g":"O","x":20,"y":76.9,"lo":72.1,"hi":81.6},{"p":"R","g":"O","x":24,"y":76,"lo":70.3,"hi":81.3},{"p":"R","g":"O","x":28,"y":73.7,"lo":66.4,"hi":80.6},{"p":"R","g":"O","x":32,"y":70.1,"lo":60.6,"hi":79.2},{"p":"R","g":"O","x":36,"y":65.2,"lo":53,"hi":77.4},{"p":"R","g":"O","x":40,"y":59.2,"lo":43.3,"hi":75.1},{"p":"R","g":"O","x":44,"y":51.8,"lo":31.3,"hi":72.6},{"p":"R","g":"O","x":48,"y":43.3,"lo":17.1,"hi":69.6},
{"p":"R","g":"A","x":0,"y":49.8,"lo":44.2,"hi":54.8},{"p":"R","g":"A","x":4,"y":55.3,"lo":51.2,"hi":57.8},{"p":"R","g":"A","x":8,"y":58.7,"lo":54.4,"hi":62.7},{"p":"R","g":"A","x":12,"y":61.1,"lo":54.8,"hi":67.5},{"p":"R","g":"A","x":16,"y":62.4,"lo":54.4,"hi":70.7},{"p":"R","g":"A","x":20,"y":62.5,"lo":52.3,"hi":72.8},{"p":"R","g":"A","x":24,"y":61.3,"lo":49.5,"hi":73.5},{"p":"R","g":"A","x":28,"y":59.2,"lo":45.4,"hi":72.1},{"p":"R","g":"A","x":32,"y":55.5,"lo":39.9,"hi":69.8},{"p":"R","g":"A","x":36,"y":50.7,"lo":32.7,"hi":68.9},{"p":"R","g":"A","x":40,"y":44.9,"lo":23.3,"hi":66.3},{"p":"R","g":"A","x":44,"y":37.5,"lo":11.8,"hi":63.1},{"p":"R","g":"A","x":48,"y":28.8,"lo":-1.4,"hi":59.2},
{"p":"W","g":"O","x":0,"y":66,"lo":61,"hi":72},{"p":"W","g":"O","x":3,"y":70.4,"lo":65.9,"hi":74.5},{"p":"W","g":"O","x":6,"y":74.8,"lo":70.4,"hi":77.2},{"p":"W","g":"O","x":9,"y":78.2,"lo":73.3,"hi":83.4},{"p":"W","g":"O","x":12,"y":81.5,"lo":74.5,"hi":88},{"p":"W","g":"O","x":15,"y":83.7,"lo":75.6,"hi":91.2},{"p":"W","g":"O","x":18,"y":85,"lo":76.6,"hi":94},{"p":"W","g":"O","x":21,"y":85.9,"lo":76.6,"hi":95.6},{"p":"W","g":"O","x":24,"y":86.2,"lo":75.6,"hi":96.7},{"p":"W","g":"O","x":27,"y":85.4,"lo":72.8,"hi":97.7},
{"p":"W","g":"A","x":0,"y":52,"lo":48,"hi":56},{"p":"W","g":"A","x":3,"y":57.4,"lo":52.8,"hi":61},{"p":"W","g":"A","x":6,"y":61.8,"lo":55.4,"hi":68},{"p":"W","g":"A","x":9,"y":65.2,"lo":57.1,"hi":72.8},{"p":"W","g":"A","x":12,"y":68.5,"lo":58.2,"hi":78.2},{"p":"W","g":"A","x":15,"y":70.4,"lo":59.3,"hi":81.5},{"p":"W","g":"A","x":18,"y":72,"lo":60.3,"hi":84.2},{"p":"W","g":"A","x":21,"y":72.8,"lo":61,"hi":85.4},{"p":"W","g":"A","x":24,"y":73,"lo":60.7,"hi":86.3},{"p":"W","g":"A","x":27,"y":72.5,"lo":59.3,"hi":85.4},
{"p":"F","g":"O","x":0,"y":68.6,"lo":63.7,"hi":72.8},{"p":"F","g":"O","x":20,"y":71.1,"lo":67.8,"hi":74.3},{"p":"F","g":"O","x":40,"y":72.7,"lo":69.6,"hi":75.6},{"p":"F","g":"O","x":60,"y":74.5,"lo":70.7,"hi":78},{"p":"F","g":"O","x":80,"y":75.3,"lo":69.5,"hi":80.2},{"p":"F","g":"O","x":100,"y":76,"lo":70.7,"hi":81},{"p":"F","g":"O","x":120,"y":76.1,"lo":70.7,"hi":81.6},{"p":"F","g":"O","x":140,"y":75.8,"lo":70.2,"hi":81.3},{"p":"F","g":"O","x":160,"y":74.8,"lo":68.6,"hi":81.3},
{"p":"F","g":"A","x":0,"y":53,"lo":49,"hi":57},{"p":"F","g":"A","x":20,"y":54.5,"lo":51.2,"hi":57.8},{"p":"F","g":"A","x":40,"y":56.6,"lo":52,"hi":62.1},{"p":"F","g":"A","x":60,"y":58,"lo":52.7,"hi":63.1},{"p":"F","g":"A","x":80,"y":59,"lo":52.7,"hi":65.4},{"p":"F","g":"A","x":100,"y":59.7,"lo":52.7,"hi":66.3},{"p":"F","g":"A","x":120,"y":59.7,"lo":52.5,"hi":66.8},{"p":"F","g":"A","x":140,"y":59.3,"lo":51.8,"hi":66.8},{"p":"F","g":"A","x":160,"y":58.5,"lo":50.2,"hi":66.8},
{"p":"S","g":"O","x":0,"y":68.5,"lo":66,"hi":71},{"p":"S","g":"O","x":2,"y":71.3,"lo":68.7,"hi":74.4},{"p":"S","g":"O","x":4,"y":73.8,"lo":71.3,"hi":76.9},{"p":"S","g":"O","x":6,"y":76.9,"lo":71.7,"hi":82},{"p":"S","g":"O","x":8,"y":79.5,"lo":73.2,"hi":86.7},{"p":"S","g":"O","x":10,"y":82,"lo":73.2,"hi":91.3},{"p":"S","g":"O","x":12,"y":84.7,"lo":73.8,"hi":95.8},{"p":"S","g":"O","x":14,"y":87.1,"lo":74.4,"hi":100.1},{"p":"S","g":"O","x":16,"y":89.2,"lo":74.4,"hi":104.6},{"p":"S","g":"O","x":18,"y":91.7,"lo":74.8,"hi":108.7},{"p":"S","g":"O","x":20,"y":93.9,"lo":75.2,"hi":113.2},{"p":"S","g":"O","x":22,"y":96.2,"lo":75.2,"hi":116.9},{"p":"S","g":"O","x":24,"y":98.4,"lo":75.2,"hi":121},
{"p":"S","g":"A","x":0,"y":53.5,"lo":51,"hi":56},{"p":"S","g":"A","x":2,"y":55.9,"lo":52.9,"hi":58.4},{"p":"S","g":"A","x":4,"y":58.4,"lo":52.9,"hi":63.9},{"p":"S","g":"A","x":6,"y":61.5,"lo":54.3,"hi":68.7},{"p":"S","g":"A","x":8,"y":64.1,"lo":54.9,"hi":73.2},{"p":"S","g":"A","x":10,"y":66.6,"lo":55.7,"hi":77.5},{"p":"S","g":"A","x":12,"y":69.3,"lo":56.3,"hi":82},{"p":"S","g":"A","x":14,"y":72.2,"lo":57.4,"hi":86.1},{"p":"S","g":"A","x":16,"y":74.4,"lo":58,"hi":90.6},{"p":"S","g":"A","x":18,"y":76.9,"lo":58,"hi":94.9},{"p":"S","g":"A","x":20,"y":79.3,"lo":58.4,"hi":99.1},{"p":"S","g":"A","x":22,"y":81.8,"lo":58.8,"hi":103.6},{"p":"S","g":"A","x":24,"y":83.7,"lo":58.8,"hi":107.3},
{"p":"X","g":"O","x":0,"y":85.8,"lo":78.5,"hi":93.5},{"p":"X","g":"O","x":10,"y":78.7,"lo":75,"hi":82.5},{"p":"X","g":"O","x":20,"y":70.9,"lo":67.5,"hi":74.6},{"p":"X","g":"O","x":30,"y":65.4,"lo":59.8,"hi":70.9},{"p":"X","g":"O","x":40,"y":60.8,"lo":52.2,"hi":68.5},{"p":"X","g":"O","x":50,"y":56.7,"lo":47.8,"hi":66.9},{"p":"X","g":"O","x":60,"y":54.3,"lo":44.1,"hi":65.4},{"p":"X","g":"O","x":70,"y":52.6,"lo":40.4,"hi":64.4},{"p":"X","g":"O","x":80,"y":52.2,"lo":40,"hi":64.4},{"p":"X","g":"O","x":90,"y":52.6,"lo":40.4,"hi":65},{"p":"X","g":"O","x":100,"y":54.3,"lo":42.1,"hi":66.9},{"p":"X","g":"O","x":110,"y":57.3,"lo":45.1,"hi":69.9},{"p":"X","g":"O","x":120,"y":61.2,"lo":47.2,"hi":74.6},{"p":"X","g":"O","x":130,"y":66.1,"lo":50.6,"hi":81.3},{"p":"X","g":"O","x":140,"y":72.2,"lo":53.9,"hi":90.9},{"p":"X","g":"O","x":150,"y":79.1,"lo":56.3,"hi":102},
{"p":"X","g":"A","x":0,"y":54,"lo":50,"hi":58},{"p":"X","g":"A","x":10,"y":46.2,"lo":39,"hi":52.6},{"p":"X","g":"A","x":20,"y":39,"lo":28.9,"hi":49.2},{"p":"X","g":"A","x":30,"y":33.3,"lo":20.3,"hi":46.1},{"p":"X","g":"A","x":40,"y":28.5,"lo":13.2,"hi":44.1},{"p":"X","g":"A","x":50,"y":24.8,"lo":7.9,"hi":43.1},{"p":"X","g":"A","x":60,"y":22.4,"lo":4.1,"hi":40.7},{"p":"X","g":"A","x":70,"y":20.7,"lo":1.8,"hi":39.6},{"p":"X","g":"A","x":80,"y":20.3,"lo":1.4,"hi":39.6},{"p":"X","g":"A","x":90,"y":21.1,"lo":2.8,"hi":39.6},{"p":"X","g":"A","x":100,"y":22.8,"lo":5.5,"hi":40},{"p":"X","g":"A","x":110,"y":25.8,"lo":9.6,"hi":41.7},{"p":"X","g":"A","x":120,"y":29.5,"lo":14.6,"hi":44.7},{"p":"X","g":"A","x":130,"y":34.3,"lo":19.3,"hi":49.6},{"p":"X","g":"A","x":140,"y":40.4,"lo":24.8,"hi":55.9},{"p":"X","g":"A","x":150,"y":47.6,"lo":29.5,"hi":65.4}
]
},
"vconcat": [
{
"hconcat": [
{
"title": "Roads", "width": 509, "height": 182,
"encoding": {
  "x": {"field": "x", "type": "quantitative", "scale": {"domain": [-0.85, 50.6], "nice": false, "zero": false}, "axis": {"title": "Road density", "values": [0,4,8,12,16,20,24,28,32,36,40,44,48]}},
  "color": {"field": "g", "type": "nominal", "scale": {"domain": ["A","O"], "range": ["#D81B60","#1E88E5"]},
    "legend": {"orient": "none", "legendX": 288, "legendY": 608, "direction": "horizontal", "title": null, "labelExpr": "datum.value == 'A' ? 'African countries' : 'Other countries'", "symbolType": "M-2.95,0H2.95M0.47,0A0.47,0.47,0,1,1,-0.47,0A0.47,0.47,0,1,1,0.47,0Z", "symbolSize": 400, "symbolStrokeWidth": 2, "labelFontSize": 21, "labelColor": "#111", "labelOffset": 38, "columnPadding": 35,
      "encode": {"symbols": {"update": {"fill": {"scale": "color", "field": "value"}, "stroke": {"scale": "color", "field": "value"}, "opacity": {"value": 1}}}}}}
},
"layer": [
 {"data": {"name": "pts"}, "transform": [{"filter": "datum.p == 'R'"}], "mark": {"type": "circle", "size": 66, "opacity": 1}, "encoding": {"y": {"field": "y", "type": "quantitative", "title": "Index of productive transformation", "scale": {"domain": [-6.3, 89.5], "nice": false, "zero": false}, "axis": {"values": [0,20,40,60,80]}}}},
 {"data": {"name": "fit"}, "transform": [{"filter": "datum.p == 'R'"}], "mark": {"type": "errorbar", "ticks": {"opacity": 0.75}, "rule": {"opacity": 0.75}, "size": 8, "thickness": 1.6}, "encoding": {"y": {"field": "lo", "type": "quantitative", "title": "Index of productive transformation", "scale": {"domain": [-6.3, 89.5], "nice": false, "zero": false}}, "y2": {"field": "hi"}}},
 {"data": {"name": "fit"}, "transform": [{"filter": "datum.p == 'R'"}], "mark": {"type": "line", "interpolate": "monotone", "strokeWidth": 1.6, "opacity": 0.85}, "encoding": {"y": {"field": "y", "type": "quantitative", "title": "Index of productive transformation", "scale": {"domain": [-6.3, 89.5], "nice": false, "zero": false}}}},
 {"data": {"name": "fit"}, "transform": [{"filter": "datum.p == 'R'"}], "mark": {"type": "circle", "size": 66, "opacity": 1}, "encoding": {"y": {"field": "y", "type": "quantitative", "title": "Index of productive transformation", "scale": {"domain": [-6.3, 89.5], "nice": false, "zero": false}}}}
]
},
{
"title": "Railways", "width": 495, "height": 182,
"encoding": {
  "x": {"field": "x", "type": "quantitative", "scale": {"domain": [-0.45, 27.2], "nice": false, "zero": false}, "axis": {"title": "Rail density", "values": [0,3,6,9,12,15,18,21,24,27]}},
  "color": {"field": "g", "type": "nominal", "scale": {"domain": ["A","O"], "range": ["#D81B60","#1E88E5"]}, "legend": null}
},
"layer": [
 {"data": {"name": "pts"}, "transform": [{"filter": "datum.p == 'W'"}], "mark": {"type": "circle", "size": 66, "opacity": 1}, "encoding": {"y": {"field": "y", "type": "quantitative", "title": "Index of productive transformation", "scale": {"domain": [15.1, 104.8], "nice": false, "zero": false}, "axis": {"values": [20,40,60,80,100]}}}},
 {"data": {"name": "fit"}, "transform": [{"filter": "datum.p == 'W'"}], "mark": {"type": "errorbar", "ticks": {"opacity": 0.75}, "rule": {"opacity": 0.75}, "size": 8, "thickness": 1.6}, "encoding": {"y": {"field": "lo", "type": "quantitative", "title": "Index of productive transformation", "scale": {"domain": [15.1, 104.8], "nice": false, "zero": false}}, "y2": {"field": "hi"}}},
 {"data": {"name": "fit"}, "transform": [{"filter": "datum.p == 'W'"}], "mark": {"type": "line", "interpolate": "monotone", "strokeWidth": 1.6, "opacity": 0.85}, "encoding": {"y": {"field": "y", "type": "quantitative", "title": "Index of productive transformation", "scale": {"domain": [15.1, 104.8], "nice": false, "zero": false}}}},
 {"data": {"name": "fit"}, "transform": [{"filter": "datum.p == 'W'"}], "mark": {"type": "circle", "size": 66, "opacity": 1}, "encoding": {"y": {"field": "y", "type": "quantitative", "title": "Index of productive transformation", "scale": {"domain": [15.1, 104.8], "nice": false, "zero": false}}}}
]
}
],
"spacing": 91,
"bounds": "flush"
},
{
"hconcat": [
{
"title": "Fibre-optic cables", "width": 310, "height": 182,
"encoding": {
  "x": {"field": "x", "type": "quantitative", "scale": {"domain": [-7.8, 165.4], "nice": false, "zero": false}, "axis": {"title": "Cable density", "values": [0,20,40,60,80,100,120,140,160]}},
  "color": {"field": "g", "type": "nominal", "scale": {"domain": ["A","O"], "range": ["#D81B60","#1E88E5"]}, "legend": null}
},
"layer": [
 {"data": {"name": "pts"}, "transform": [{"filter": "datum.p == 'F'"}], "mark": {"type": "circle", "size": 66, "opacity": 1}, "encoding": {"y": {"field": "y", "type": "quantitative", "title": "Index of productive transformation", "scale": {"domain": [15.5, 104.2], "nice": false, "zero": false}, "axis": {"values": [20,40,60,80,100]}}}},
 {"data": {"name": "fit"}, "transform": [{"filter": "datum.p == 'F'"}], "mark": {"type": "errorbar", "ticks": {"opacity": 0.75}, "rule": {"opacity": 0.75}, "size": 8, "thickness": 1.6}, "encoding": {"y": {"field": "lo", "type": "quantitative", "title": "Index of productive transformation", "scale": {"domain": [15.5, 104.2], "nice": false, "zero": false}}, "y2": {"field": "hi"}}},
 {"data": {"name": "fit"}, "transform": [{"filter": "datum.p == 'F'"}], "mark": {"type": "line", "interpolate": "monotone", "strokeWidth": 1.6, "opacity": 0.85}, "encoding": {"y": {"field": "y", "type": "quantitative", "title": "Index of productive transformation", "scale": {"domain": [15.5, 104.2], "nice": false, "zero": false}}}},
 {"data": {"name": "fit"}, "transform": [{"filter": "datum.p == 'F'"}], "mark": {"type": "circle", "size": 66, "opacity": 1}, "encoding": {"y": {"field": "y", "type": "quantitative", "title": "Index of productive transformation", "scale": {"domain": [15.5, 104.2], "nice": false, "zero": false}}}}
]
},
{
"title": "Solar panel capacity", "width": 303, "height": 182,
"encoding": {
  "x": {"field": "x", "type": "quantitative", "scale": {"domain": [-0.76, 24.76], "nice": false, "zero": false}, "axis": {"title": "Solar energy density", "values": [0,2,4,6,8,10,12,14,16,18,20,22,24]}},
  "color": {"field": "g", "type": "nominal", "scale": {"domain": ["A","O"], "range": ["#D81B60","#1E88E5"]}, "legend": null}
},
"layer": [
 {"data": {"name": "pts"}, "transform": [{"filter": "datum.p == 'S'"}], "mark": {"type": "circle", "size": 66, "opacity": 1}, "encoding": {"y": {"field": "y", "type": "quantitative", "title": "Index of productive transformation", "scale": {"domain": [14.3, 126.3], "nice": false, "zero": false}, "axis": {"values": [20,40,60,80,100,120]}}}},
 {"data": {"name": "fit"}, "transform": [{"filter": "datum.p == 'S'"}], "mark": {"type": "errorbar", "ticks": {"opacity": 0.75}, "rule": {"opacity": 0.75}, "size": 8, "thickness": 1.6}, "encoding": {"y": {"field": "lo", "type": "quantitative", "title": "Index of productive transformation", "scale": {"domain": [14.3, 126.3], "nice": false, "zero": false}}, "y2": {"field": "hi"}}},
 {"data": {"name": "fit"}, "transform": [{"filter": "datum.p == 'S'"}], "mark": {"type": "line", "interpolate": "monotone", "strokeWidth": 1.6, "opacity": 0.85}, "encoding": {"y": {"field": "y", "type": "quantitative", "title": "Index of productive transformation", "scale": {"domain": [14.3, 126.3], "nice": false, "zero": false}}}},
 {"data": {"name": "fit"}, "transform": [{"filter": "datum.p == 'S'"}], "mark": {"type": "circle", "size": 66, "opacity": 1}, "encoding": {"y": {"field": "y", "type": "quantitative", "title": "Index of productive transformation", "scale": {"domain": [14.3, 126.3], "nice": false, "zero": false}}}}
]
},
{
"title": "Fossil fuel capacity", "width": 300, "height": 182,
"encoding": {
  "x": {"field": "x", "type": "quantitative", "scale": {"domain": [-4.2, 153.1], "nice": false, "zero": false}, "axis": {"title": "Fossil fuel energy density", "labelFontSize": 11, "labelOverlap": false, "values": [0,10,20,30,40,50,60,70,80,90,100,110,120,130,140,150]}},
  "color": {"field": "g", "type": "nominal", "scale": {"domain": ["A","O"], "range": ["#D81B60","#1E88E5"]}, "legend": null}
},
"layer": [
 {"data": {"name": "pts"}, "transform": [{"filter": "datum.p == 'X'"}], "mark": {"type": "circle", "size": 66, "opacity": 1}, "encoding": {"y": {"field": "y", "type": "quantitative", "title": "Index of productive transformation", "scale": {"domain": [-3.7, 107.3], "nice": false, "zero": false}, "axis": {"values": [0,20,40,60,80,100]}}}},
 {"data": {"name": "fit"}, "transform": [{"filter": "datum.p == 'X'"}], "mark": {"type": "errorbar", "ticks": {"opacity": 0.75}, "rule": {"opacity": 0.75}, "size": 8, "thickness": 1.6}, "encoding": {"y": {"field": "lo", "type": "quantitative", "title": "Index of productive transformation", "scale": {"domain": [-3.7, 107.3], "nice": false, "zero": false}}, "y2": {"field": "hi"}}},
 {"data": {"name": "fit"}, "transform": [{"filter": "datum.p == 'X'"}], "mark": {"type": "line", "interpolate": "monotone", "strokeWidth": 1.6, "opacity": 0.85}, "encoding": {"y": {"field": "y", "type": "quantitative", "title": "Index of productive transformation", "scale": {"domain": [-3.7, 107.3], "nice": false, "zero": false}}}},
 {"data": {"name": "fit"}, "transform": [{"filter": "datum.p == 'X'"}], "mark": {"type": "circle", "size": 66, "opacity": 1}, "encoding": {"y": {"field": "y", "type": "quantitative", "title": "Index of productive transformation", "scale": {"domain": [-3.7, 107.3], "nice": false, "zero": false}}}}
]
}
],
"spacing": 91,
"bounds": "flush"
}
]
}
